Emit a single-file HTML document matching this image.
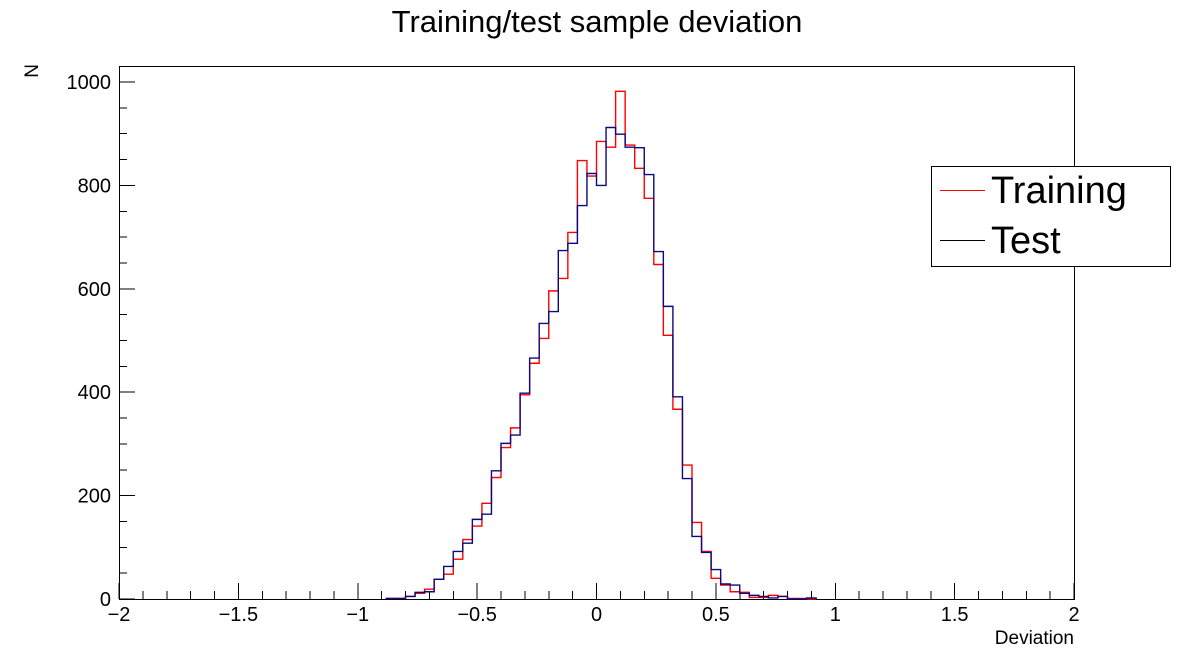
<!DOCTYPE html>
<html><head><meta charset="utf-8"><style>
body{margin:0;background:#fff;}
svg text{font-family:"Liberation Sans",sans-serif;}
</style></head><body>
<svg id="chart" width="1194" height="666" viewBox="0 0 1194 666" xmlns="http://www.w3.org/2000/svg">
<rect width="1194" height="666" fill="#fff"/>
<text x="597" y="32" font-size="31" text-anchor="middle">Training/test sample deviation</text>
<rect x="119.5" y="66.5" width="955" height="533" fill="none" stroke="#000" stroke-width="1"/>
<g id="axes" shape-rendering="crispEdges"></g>
<g id="series"></g>
<text transform="translate(38,64) rotate(-90)" font-size="19" text-anchor="end">N</text>
<text x="1074" y="644" font-size="19" text-anchor="end">Deviation</text>
<g>
<rect x="931.5" y="166.5" width="239" height="100" fill="#fff" stroke="#000" stroke-width="1"/>
<line x1="940" y1="190.5" x2="985" y2="190.5" stroke="#f00" stroke-width="1"/>
<text x="991" y="203" font-size="38">Training</text>
<line x1="940" y1="240.5" x2="985" y2="240.5" stroke="#000" stroke-width="1"/>
<text x="991" y="253" font-size="38">Test</text>
</g>
</svg>
<script>
const binStart = -0.88;
const binWidth = 0.04;
const trainingCounts = [1,1,5,11,19,38,48,77,115,141,185,235,293,331,395,456,504,596,620,709,848,818,885,874,982,878,833,775,647,510,367,259,148,92,40,27,14,13,3,3,7,5,1,1,0];
const testCounts = [1,1,5,13,14,38,63,92,108,154,164,248,301,317,398,466,533,556,674,688,761,823,800,912,899,874,873,821,672,566,391,233,121,90,57,29,27,11,7,5,2,5,0,0,2];
const xTicks = [-2,-1.5,-1,-0.5,0,0.5,1,1.5,2];
const xTickLabels = ["\u22122","\u22121.5","\u22121","\u22120.5","0","0.5","1","1.5","2"];
const yTicks = [0,200,400,600,800,1000];
const yTickLabels = ["0","200","400","600","800","1000"];

const NS = "http://www.w3.org/2000/svg";
const X0 = 119, X1 = 1074, Y0 = 599, Y1 = 66;
function xs(v){ return X0 + (v + 2) / 4 * (X1 - X0); }
function ys(v){ return Y0 - v * 0.517; }
function mk(tag, attrs, parent){
  const e = document.createElementNS(NS, tag);
  for (const k in attrs) e.setAttribute(k, attrs[k]);
  parent.appendChild(e);
  return e;
}
const axes = document.getElementById('axes');
for (let i = 0; i <= 40; i++) {
  const v = -2 + i * 0.1;
  const major = i % 5 === 0;
  const t = mk('line', {x1: xs(v), x2: xs(v), y1: Y0, y2: Y0 - (major ? 16 : 8), stroke: '#000'}, axes);
  
  
}
xTicks.forEach((v, i) => {
  const t = mk('text', {x: xs(v), y: 621, 'font-size': 20, 'text-anchor': 'middle'}, axes);
  t.textContent = xTickLabels[i];
  
  
});
for (let i = 0; i <= 20; i++) {
  const v = i * 50;
  const major = i % 4 === 0;
  const t = mk('line', {x1: X0, x2: X0 + (major ? 16 : 8), y1: ys(v), y2: ys(v), stroke: '#000'}, axes);
  
  
}
yTicks.forEach((v, i) => {
  const t = mk('text', {x: 111, y: ys(v) + 7, 'font-size': 20, 'text-anchor': 'end'}, axes);
  t.textContent = yTickLabels[i];
  
  
});
function histPath(counts){
  let d = 'M' + xs(binStart) + ',' + ys(0);
  counts.forEach((c, i) => {
    const a = xs(binStart + i * binWidth), b = xs(binStart + (i + 1) * binWidth);
    d += ' L' + a + ',' + ys(c) + ' L' + b + ',' + ys(c);
  });
  d += ' L' + xs(binStart + counts.length * binWidth) + ',' + ys(0);
  return d;
}
const series = document.getElementById('series');
const tr = mk('path', {d: histPath(trainingCounts), fill: 'none', stroke: '#f00', 'stroke-width': 1.4}, series);


const te = mk('path', {d: histPath(testCounts), fill: 'none', stroke: '#0a0a80', 'stroke-width': 1.4}, series);


</script>
</body></html>
